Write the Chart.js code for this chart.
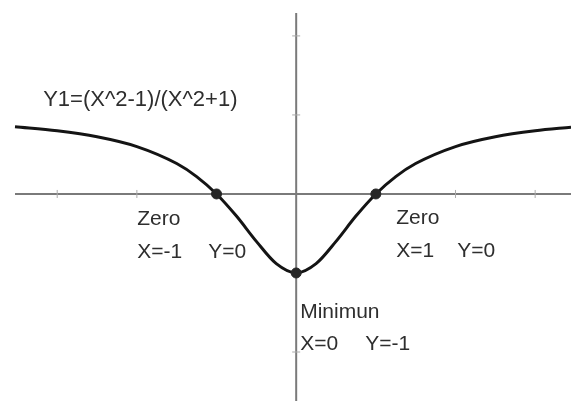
<!DOCTYPE html>
<html>
<head>
<meta charset="utf-8">
<script src="https://cdn.jsdelivr.net/npm/chart.js@4.4.1/dist/chart.umd.min.js"></script>
<style>
  html, body { margin: 0; padding: 0; background: #fff; }
  canvas { display: block; }
</style>
</head>
<body>
<canvas id="graph" width="571" height="401"></canvas>
<script>
// curve
const xs = [-3.53, -3, -2.5, -2, -1.5, -1.25, -1, -0.75, -0.5, -0.25, 0, 0.25, 0.5, 0.75, 1, 1.25, 1.5, 2, 2.5, 3, 3.45];
const ys = [0.851, 0.8, 0.724, 0.6, 0.385, 0.22, 0, -0.28, -0.6, -0.882, -1, -0.882, -0.6, -0.28, 0, 0.22, 0.385, 0.6, 0.724, 0.8, 0.845];

// marked points: zeros and minimum
const markX = [-1, 1, 0];
const markY = [0, 0, -1];

const tickValues = [-3, -2, -1, 1, 2, 3];
const yTickValues = [-2, -1, 1, 2];

const titleText = "Y1=(X^2-1)/(X^2+1)";
const noteTexts = ["Zero", "X=-1", "Y=0", "Zero", "X=1", "Y=0", "Minimun", "X=0", "Y=-1"];

// where each note sits, in pixels relative to the origin
const noteOffsets = [
  [-159, 25], [-159, 58], [-88, 58],
  [100, 24], [100, 57], [161, 57],
  [4, 118], [4, 150], [69, 150],
];

const axesAtOrigin = {
  id: "axesAtOrigin",
  beforeDatasetsDraw(chart) {
    const { ctx, chartArea, scales: { x, y } } = chart;
    const ox = x.getPixelForValue(0);
    const oy = y.getPixelForValue(0);
    ctx.save();
    ctx.strokeStyle = "#7a7a7a";
    ctx.lineWidth = 2;
    ctx.beginPath();
    ctx.moveTo(chartArea.left, oy);
    ctx.lineTo(chartArea.right, oy);
    ctx.moveTo(ox, chartArea.top);
    ctx.lineTo(ox, chartArea.bottom);
    ctx.stroke();
    ctx.lineWidth = 1;
    ctx.strokeStyle = "#aaa";
    ctx.beginPath();
    tickValues.forEach((v) => {
      const px = x.getPixelForValue(v);
      ctx.moveTo(px, oy - 4);
      ctx.lineTo(px, oy + 4);
    });
    yTickValues.forEach((v) => {
      const py = y.getPixelForValue(v);
      ctx.moveTo(ox - 4, py);
      ctx.lineTo(ox + 4, py);
    });
    ctx.stroke();
    ctx.restore();
  },
  afterDatasetsDraw(chart) {
    const { ctx, scales: { x, y } } = chart;
    const ox = x.getPixelForValue(0);
    const oy = y.getPixelForValue(0);
    ctx.save();
    ctx.fillStyle = "#2e2e2e";
    ctx.textBaseline = "middle";
    ctx.textAlign = "left";
    ctx.font = "22px 'Liberation Sans', Arial, sans-serif";
    ctx.fillText(titleText, ox - 253, oy - 94);
    ctx.font = "21px 'Liberation Sans', Arial, sans-serif";
    noteTexts.forEach((t, i) => {
      ctx.fillText(t, ox + noteOffsets[i][0], oy + noteOffsets[i][1]);
    });
    ctx.restore();
  },
};

new Chart(document.getElementById("graph"), {
  type: "scatter",
  data: {
    datasets: [
      {
        data: xs.map((v, i) => ({ x: v, y: ys[i] })),
        showLine: true,
        borderColor: "#141414",
        borderWidth: 3,
        pointRadius: 0,
        cubicInterpolationMode: "monotone",
        clip: false,
        order: 2,
      },
      {
        data: markX.map((v, i) => ({ x: v, y: markY[i] })),
        showLine: false,
        pointRadius: 5,
        pointBackgroundColor: "#262626",
        pointBorderColor: "#262626",
        order: 1,
      },
    ],
  },
  options: {
    responsive: false,
    animation: false,
    layout: { autoPadding: false, padding: { left: 15, right: 0, top: 13, bottom: 0 } },
    scales: {
      x: { type: "linear", min: -3.53, max: 3.45, display: false },
      y: { type: "linear", min: -2.62, max: 2.29, display: false },
    },
    plugins: {
      legend: { display: false },
      tooltip: { enabled: false },
    },
  },
  plugins: [axesAtOrigin],
});
</script>
</body>
</html>
